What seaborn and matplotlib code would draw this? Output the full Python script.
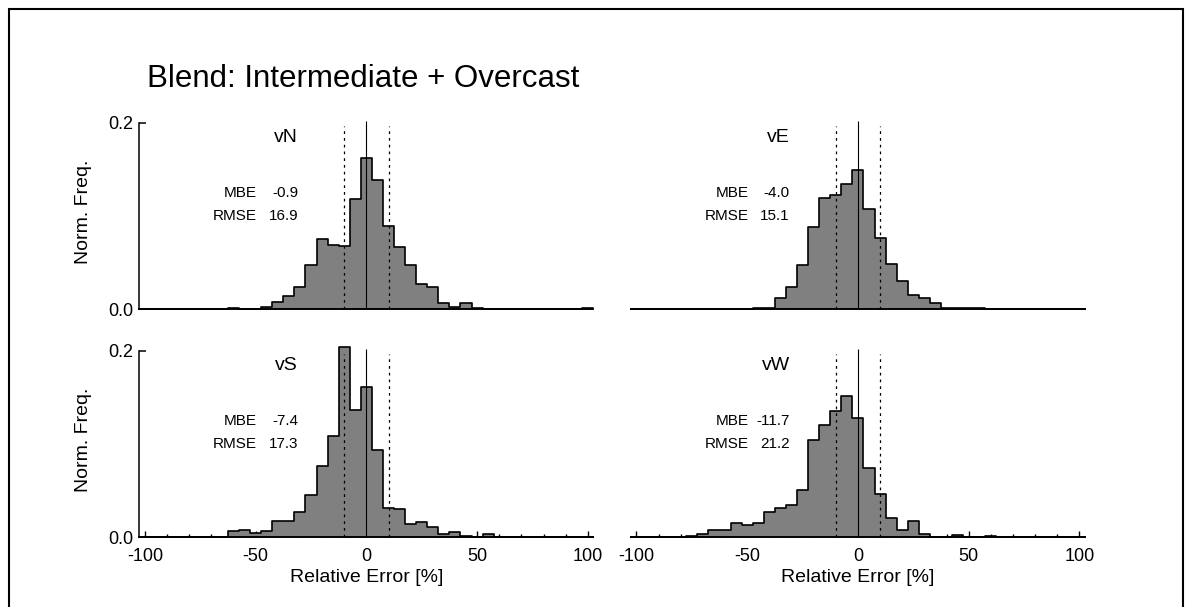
import numpy as np
import matplotlib
matplotlib.use("Agg")
import matplotlib.pyplot as plt
import seaborn as sns
from matplotlib.patches import Rectangle
from matplotlib.ticker import MultipleLocator

title = "Blend: Intermediate + Overcast"
panel_names = ["vN", "vE", "vS", "vW"]
mbe_values = [-0.9, -4.0, -7.4, -11.7]
rmse_values = [16.9, 15.1, 17.3, 21.2]

# bin centres (relative error, %) and normalised frequency, only non-empty bins
vN_err = [-60, -45, -40, -35, -30, -25, -20, -15, -10, -5, 0, 5, 10, 15, 20, 25, 30,
          35, 40, 45, 50, 55, 65, 100]
vN_freq = [0.001, 0.003, 0.0075, 0.014, 0.024, 0.047, 0.075, 0.069, 0.068, 0.118, 0.162,
           0.139, 0.089, 0.067, 0.048, 0.027, 0.024, 0.0065, 0.003, 0.0065, 0.001, 0.0007,
           0.0007, 0.0015]

vE_err = [-60, -45, -40, -35, -30, -25, -20, -15, -10, -5, 0, 5, 10, 15, 20, 25, 30,
          35, 40, 45, 50, 55]
vE_freq = [0.0007, 0.001, 0.001, 0.0125, 0.024, 0.048, 0.088, 0.119, 0.123, 0.134, 0.149,
           0.108, 0.076, 0.049, 0.0305, 0.0155, 0.0125, 0.007, 0.001, 0.001, 0.001, 0.001]

vS_err = [-65, -60, -55, -50, -45, -40, -35, -30, -25, -20, -15, -10, -5, 0, 5, 10, 15,
          20, 25, 30, 35, 40, 45, 50, 55, 100]
vS_freq = [0.0007, 0.0065, 0.008, 0.0047, 0.0072, 0.017, 0.017, 0.027, 0.045, 0.076, 0.109,
           0.2035, 0.137, 0.161, 0.094, 0.0315, 0.030, 0.0147, 0.016, 0.011, 0.0036, 0.0054,
           0.001, 0.0003, 0.0036, 0.0007]

vW_err = [-75, -70, -65, -60, -55, -50, -45, -40, -35, -30, -25, -20, -15, -10, -5, 0, 5,
          10, 15, 20, 25, 30, 45, 60]
vW_freq = [0.0015, 0.0036, 0.008, 0.008, 0.0154, 0.0136, 0.0154, 0.027, 0.0315, 0.0344,
           0.0505, 0.104, 0.120, 0.135, 0.152, 0.128, 0.0746, 0.046, 0.021, 0.008, 0.018,
           0.0036, 0.003, 0.001]

errs = [vN_err, vE_err, vS_err, vW_err]
freqs = [vN_freq, vE_freq, vS_freq, vW_freq]

sns.set_style("white")
plt.rcParams["font.family"] = ["Liberation Sans", "DejaVu Sans"]
plt.rcParams["axes.linewidth"] = 1.1
plt.rcParams["axes.unicode_minus"] = False
for key in ["text.color", "axes.labelcolor", "xtick.color", "ytick.color", "axes.edgecolor"]:
    plt.rcParams[key] = "black"

fig = plt.figure(figsize=(11.86, 6.07), dpi=100)

# axes boxes in figure fractions (left col / right col, top row / bottom row)
lefts = [0.1175, 0.532]
bottoms = [0.4904, 0.1148]
w, h = 0.3828, 0.3074

for i in range(4):
    row, col = divmod(i, 2)
    ax = fig.add_axes([lefts[col], bottoms[row], w, h])
    sns.histplot(x=errs[i], weights=freqs[i], binwidth=5, binrange=(-102.5, 102.5),
                 element="step", fill=True, color="#808080", alpha=1,
                 edgecolor="black", linewidth=1.2, ax=ax)
    for c in ax.collections:
        c.set_clip_on(False)
    ax.set_xlim(-102.5, 102.5)
    ax.set_ylim(0, 0.2)

    ax.vlines(0, 0, 0.202, color="black", linewidth=0.8, clip_on=False, zorder=5)
    ax.vlines([-10, 10], 0, 0.196, color="black", linewidth=0.9,
              linestyles=(0, (2.2, 3.2)), clip_on=False, zorder=5)

    ax.text(-30.8, 0.179, panel_names[i], ha="right", va="baseline", fontsize=14)
    ax.text(-49.5, 0.120, "MBE", ha="right", va="baseline", fontsize=11)
    ax.text(-30.8, 0.120, f"{mbe_values[i]:.1f}", ha="right", va="baseline", fontsize=11)
    ax.text(-49.5, 0.0957, "RMSE", ha="right", va="baseline", fontsize=11)
    ax.text(-30.8, 0.0957, f"{rmse_values[i]:.1f}", ha="right", va="baseline", fontsize=11)

    sns.despine(ax=ax, left=(col == 1))
    ax.set_xlabel("")
    ax.set_ylabel("")

    if col == 0:
        ax.set_yticks([0, 0.2])
        ax.set_yticklabels(["0.0", "0.2"])
        ax.tick_params(axis="y", left=True, direction="in", length=5, width=1.1,
                       labelsize=13, pad=4.5)
        ax.set_ylabel("Norm. Freq.", fontsize=14)
        ax.yaxis.set_label_coords(-0.105, 0.52)
    else:
        ax.tick_params(axis="y", left=False, labelleft=False)

    if row == 0:
        ax.tick_params(axis="x", bottom=False, labelbottom=False)
    else:
        ax.set_xticks([-100, -50, 0, 50, 100])
        ax.xaxis.set_minor_locator(MultipleLocator(10))
        ax.tick_params(axis="x", which="major", bottom=True, direction="in", length=4,
                       width=1, labelsize=13, pad=8)
        ax.tick_params(axis="x", which="minor", direction="in", length=2, width=1,
                       bottom=True)
        ax.set_xlabel("Relative Error [%]", fontsize=14)
        ax.xaxis.set_label_coords(0.5, -0.17)

fig.text(147 / 1186, 1 - 87 / 607, title, fontsize=22.5, ha="left", va="baseline")

fig.add_artist(Rectangle((8.5 / 1186, -0.05), 1174 / 1186, 1.05 - 8.5 / 607,
                         transform=fig.transFigure, fill=False, lw=1.5,
                         edgecolor="black", clip_on=False))

fig.savefig("out.png", dpi=100)
